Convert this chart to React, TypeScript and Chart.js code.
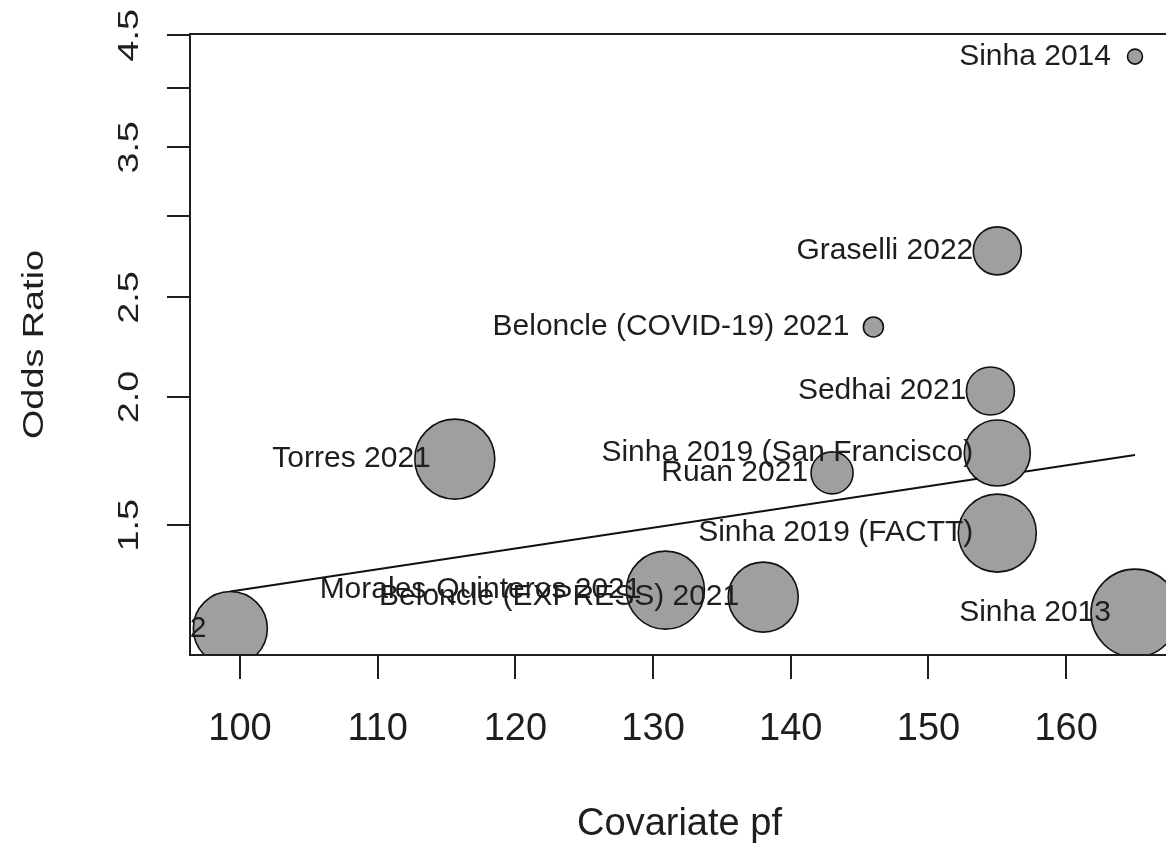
import { useEffect, useRef } from "react";
import { Chart, registerables } from "chart.js";

Chart.register(...registerables);

// Studies in the meta-regression
const studies = [
  "Sinha 2014",
  "Graselli 2022",
  "Beloncle (COVID-19) 2021",
  "Sedhai 2021",
  "Sinha 2019 (San Francisco)",
  "Ruan 2021",
  "Torres 2021",
  "Sinha 2019 (FACTT)",
  "Morales-Quinteros 2021",
  "Beloncle (EXPRESS) 2021",
  "Sinha 2013",
  "Sathe 2022",
];
// Covariate (P/F ratio) per study
const covariatePf = [165.0, 155.0, 146.0, 154.5, 155.0, 143.0, 115.6, 155.0, 130.9, 138.0, 165.0, 99.3];
// Odds ratio per study
const oddsRatios = [4.29, 2.775, 2.34, 2.027, 1.764, 1.687, 1.74, 1.474, 1.297, 1.277, 1.232, 1.19];
// Relative study weights (bubble area scales with these)
const studyWeights = [1.5, 4.8, 2.0, 4.8, 6.6, 4.2, 8.0, 7.8, 7.8, 7.0, 8.8, 7.4];
// Fitted meta-regression line (endpoints over the covariate range)
const fitPf = [99.3, 165.0];
const fitOR = [1.293, 1.756];

const xTicks = [100, 110, 120, 130, 140, 150, 160];
const yTicks = [1.5, 2.0, 2.5, 3.0, 3.5, 4.0, 4.5];
const yTickLabels = ["1.5", "2.0", "2.5", "", "3.5", "", "4.5"];

const FONT = "'Liberation Sans', Arial, Helvetica, sans-serif";
const INK = "#1e1e1e";

const bubbleRadius = (w: number) => w * 5;

function drawStretched(
  ctx: CanvasRenderingContext2D,
  text: string,
  x: number,
  y: number,
  size: number,
  stretch: number,
  rotate: boolean
) {
  ctx.save();
  ctx.translate(x, y);
  if (rotate) ctx.rotate(-Math.PI / 2);
  ctx.scale(stretch, 1);
  ctx.font = `${size}px ${FONT}`;
  ctx.textAlign = "center";
  ctx.textBaseline = "alphabetic";
  ctx.fillText(text, 0, 0);
  ctx.restore();
}

const frame = {
  id: "frame",
  afterDatasetsDraw(chart: any) {
    const { ctx, chartArea: a, scales } = chart;
    const xs = scales.x;
    const ys = scales.y;

    // study labels, placed to the left of each point and clipped to the plot region
    ctx.save();
    ctx.beginPath();
    ctx.rect(a.left, a.top, a.right - a.left, a.bottom - a.top);
    ctx.clip();
    ctx.font = `30px ${FONT}`;
    ctx.fillStyle = INK;
    ctx.textAlign = "right";
    ctx.textBaseline = "middle";
    studies.forEach((name, i) => {
      const px = xs.getPixelForValue(covariatePf[i]);
      const py = ys.getPixelForValue(oddsRatios[i]);
      ctx.fillText(name, px - 24, py);
    });
    ctx.restore();

    ctx.save();
    ctx.strokeStyle = INK;
    ctx.fillStyle = INK;
    ctx.lineWidth = 2;
    // plot box
    ctx.strokeRect(a.left, a.top, a.right - a.left, a.bottom - a.top);

    // x axis ticks and labels
    ctx.beginPath();
    xTicks.forEach((t) => {
      const px = Math.round(xs.getPixelForValue(t));
      ctx.moveTo(px, a.bottom);
      ctx.lineTo(px, a.bottom + 24);
    });
    // y axis ticks
    yTicks.forEach((t) => {
      const py = Math.round(ys.getPixelForValue(t));
      ctx.moveTo(a.left, py);
      ctx.lineTo(a.left - 23, py);
    });
    ctx.stroke();

    xTicks.forEach((t) => {
      drawStretched(ctx, String(t), xs.getPixelForValue(t), a.bottom + 85, 38, 1, false);
    });
    yTicks.forEach((t, i) => {
      if (!yTickLabels[i]) return;
      drawStretched(ctx, yTickLabels[i], a.left - 52, ys.getPixelForValue(t), 29, 1.3, true);
    });

    // axis titles
    drawStretched(ctx, "Covariate pf", (a.left + a.right) / 2, a.bottom + 180, 38, 1, false);
    drawStretched(ctx, "Odds Ratio", 43, (a.top + a.bottom) / 2, 30, 1.26, true);
    ctx.restore();
  },
};

export default function App() {
  const canvasRef = useRef<HTMLCanvasElement | null>(null);

  useEffect(() => {
    if (!canvasRef.current) return;
    const points = covariatePf.map((x, i) => ({ x, y: oddsRatios[i], r: bubbleRadius(studyWeights[i]) }));
    const fit = fitPf.map((x, i) => ({ x, y: fitOR[i] }));

    const chart = new Chart(canvasRef.current, {
      type: "bubble",
      data: {
        datasets: [
          {
            type: "bubble",
            data: points,
            backgroundColor: "#9f9f9f",
            borderColor: "#111111",
            borderWidth: 1.6,
            clip: 0,
          } as any,
          {
            type: "line",
            data: fit,
            borderColor: "#111111",
            borderWidth: 2,
            pointRadius: 0,
            fill: false,
            tension: 0,
            clip: 0,
          } as any,
        ],
      },
      options: {
        animation: false,
        responsive: false,
        events: [],
        layout: { autoPadding: false, padding: { left: 190, top: 34, right: 11, bottom: 190 } },
        plugins: { legend: { display: false }, tooltip: { enabled: false } },
        scales: {
          x: { type: "linear", min: 96.37, max: 167.47, display: false, bounds: "data" },
          y: { type: "logarithmic", min: 1.1215, max: 4.513, display: false, bounds: "data" },
        },
      },
      plugins: [frame],
    });
    return () => chart.destroy();
  }, []);

  return (
    <div
      style={{
        position: "fixed",
        left: 0,
        top: 0,
        width: 1166,
        height: 845,
        overflow: "hidden",
        background: "#ffffff",
      }}
    >
      <canvas ref={canvasRef} width={1180} height={845} style={{ display: "block" }} />
    </div>
  );
}
